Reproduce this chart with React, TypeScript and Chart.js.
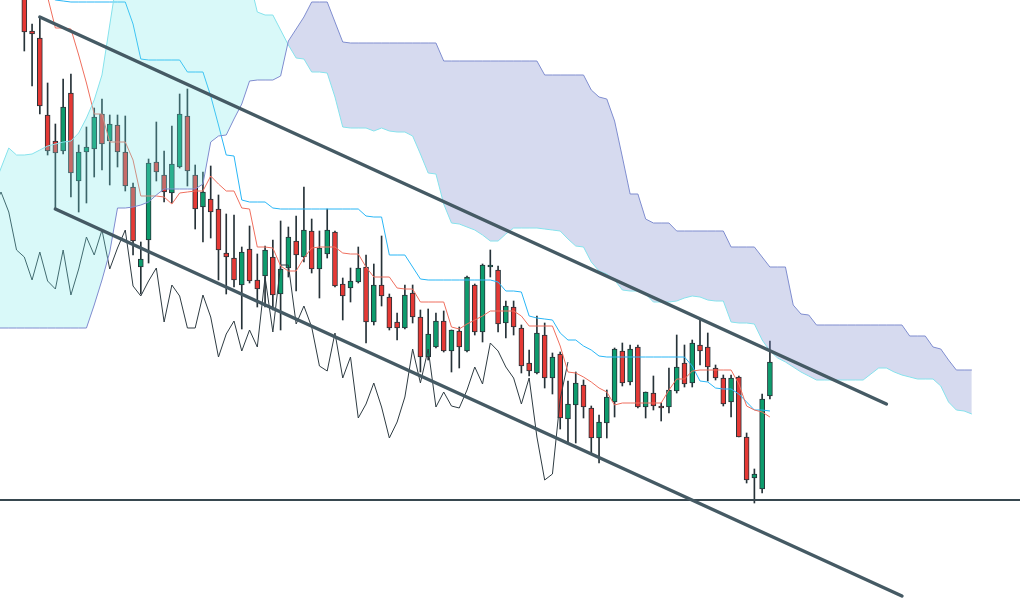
import React, { useEffect, useRef } from "react";
import { Chart, registerables } from "chart.js";

Chart.register(...registerables);

// ---- price data (candles indexed 0..96) ----
const opens = [
  200.8, 196.9, 196.2, 188.5, 185.9, 184.9, 190.7, 181.9, 184.8, 185.1,
  188.6, 185.9, 187.5, 184.8, 181.3, 173.3, 176.0, 183.8, 182.5, 180.7,
  183.3, 188.4, 182.5, 179.3, 180.1, 179.1, 174.7, 174.2, 171.5, 175.1,
  172.0, 172.4, 174.3, 170.6, 173.2, 175.9, 174.3, 176.9, 173.1, 174.6,
  176.8, 171.6, 171.2, 171.8, 173.3, 167.8, 171.5, 170.3, 167.8, 167.2,
  170.7, 168.3, 164.3, 165.3, 167.9, 164.9, 166.9, 164.9, 171.5, 166.8,
  173.3, 173.0, 167.7, 169.3, 167.2, 163.7, 162.7, 166.5, 162.2, 164.6,
  158.1, 159.5, 161.5, 159.2, 156.2, 157.7, 159.8, 164.9, 161.8, 165.3,
  159.3, 160.7, 159.4, 159.3, 160.9, 163.7, 161.7, 165.5, 165.3, 163.2,
  162.2, 159.8, 162.3, 156.3, 152.2, 151.1, 160.4,
];
const highs = [
  201.5, 197.6, 198.3, 191.7, 187.6, 192.1, 192.6, 185.5, 187.3, 189.2,
  190.1, 188.5, 188.5, 188.4, 181.7, 175.8, 184.1, 187.8, 184.9, 187.4,
  190.6, 191.1, 183.5, 182.8, 183.4, 180.5, 178.6, 178.5, 175.3, 177.4,
  174.6, 175.4, 176.0, 177.9, 177.3, 178.4, 181.3, 178.1, 176.9, 179.1,
  176.9, 172.2, 173.2, 175.3, 174.5, 173.6, 176.4, 170.6, 168.7, 171.5,
  171.5, 169.0, 169.1, 168.7, 168.9, 167.0, 167.3, 172.4, 171.6, 173.6,
  175.0, 173.4, 169.9, 169.9, 167.5, 165.0, 168.4, 167.7, 164.7, 164.8,
  161.9, 162.8, 162.0, 159.4, 158.5, 161.0, 165.2, 165.7, 165.5, 165.5,
  160.8, 162.4, 159.7, 163.2, 166.5, 165.5, 166.0, 168.0, 166.7, 163.5,
  162.5, 162.5, 162.4, 156.7, 153.1, 160.6, 165.9,
];
const lows = [
  194.9, 191.4, 188.6, 184.5, 179.1, 184.6, 180.3, 178.8, 179.7, 182.3,
  183.0, 181.5, 183.3, 180.9, 174.5, 170.6, 173.7, 181.9, 179.8, 179.7,
  183.2, 181.4, 177.1, 175.8, 176.2, 172.0, 170.6, 171.3, 167.1, 171.7,
  169.3, 169.3, 169.0, 167.0, 172.3, 170.9, 173.8, 172.7, 170.2, 174.2,
  171.3, 168.0, 169.8, 171.7, 165.7, 167.5, 169.4, 167.0, 166.0, 167.1,
  167.7, 162.8, 164.0, 165.2, 164.8, 162.8, 163.2, 164.8, 166.5, 165.8,
  172.3, 166.8, 166.2, 166.5, 162.7, 162.4, 162.6, 161.2, 160.6, 157.1,
  155.7, 155.7, 158.2, 154.7, 153.7, 156.2, 158.3, 161.4, 161.5, 159.2,
  158.2, 159.0, 157.9, 158.7, 160.7, 161.3, 161.3, 163.5, 161.9, 162.0,
  159.4, 158.3, 156.3, 151.7, 149.7, 150.7, 160.1,
];
const closes = [
  196.8, 196.6, 189.4, 184.9, 184.7, 189.3, 182.7, 184.8, 185.3, 188.3,
  185.6, 187.6, 184.8, 181.4, 175.9, 174.1, 183.7, 182.8, 180.8, 183.6,
  188.6, 182.9, 179.1, 180.8, 178.8, 175.0, 174.3, 172.0, 174.8, 171.9,
  171.1, 175.0, 170.5, 173.1, 176.3, 174.5, 177.0, 173.1, 175.2, 177.0,
  171.4, 170.4, 171.9, 173.2, 167.8, 171.5, 170.4, 167.2, 167.2, 170.5,
  168.3, 164.3, 166.6, 167.9, 164.9, 167.0, 165.3, 172.3, 166.8, 173.5,
  173.5, 167.6, 169.4, 167.3, 163.4, 162.9, 166.7, 162.2, 164.3, 158.2,
  159.6, 161.7, 159.3, 156.2, 157.8, 160.3, 165.1, 161.7, 165.1, 159.3,
  160.8, 159.4, 159.2, 161.0, 163.3, 161.6, 165.7, 164.9, 163.3, 162.2,
  159.6, 162.2, 156.3, 152.0, 152.6, 160.1, 163.8,
];

// ---- Ichimoku lines ----
const tenkan = [
  210.0, 207.0, 203.5, 200.3, 197.2, 197.2, 197.1, 194.5, 191.7, 188.6,
  188.6, 185.8, 185.8, 185.8, 184.0, 180.4, 180.4, 180.4, 180.3, 179.6,
  180.7, 180.8, 180.9, 180.9, 182.4, 181.6, 180.9, 180.9, 179.2, 179.1,
  175.3, 175.3, 175.2, 173.4, 172.9, 172.9, 174.2, 175.2, 175.3, 175.3,
  175.3, 174.7, 174.6, 174.6, 173.3, 172.3, 172.3, 172.3, 171.2, 171.1,
  171.1, 169.8, 169.8, 169.8, 169.8, 167.3, 167.1, 167.6, 168.0, 168.4,
  168.9, 168.9, 168.9, 168.9, 168.4, 167.4, 167.4, 167.4, 167.4, 165.4,
  162.8, 162.7, 162.3, 161.8, 161.2, 160.8, 159.5, 159.7, 159.7, 159.7,
  159.7, 159.7, 159.7, 161.0, 162.1, 162.1, 162.9, 163.0, 163.0, 163.0,
  163.0, 163.0, 161.6, 159.4, 159.0, 158.8, 158.3,
];
const kijun = [
  203.0, 202.5, 202.0, 200.4, 200.0, 199.9, 199.8, 199.8, 199.8, 199.8,
  199.8, 199.8, 199.8, 199.8, 197.6, 194.1, 194.0, 194.0, 194.0, 194.0,
  194.0, 192.8, 192.8, 192.8, 190.4, 187.5, 184.5, 184.4, 180.0, 179.8,
  179.8, 179.8, 179.2, 179.1, 179.1, 179.1, 179.1, 179.1, 179.1, 179.1,
  179.1, 179.1, 179.1, 179.1, 178.4, 178.3, 178.3, 174.5, 174.5, 174.5,
  173.3, 172.1, 172.0, 172.0, 172.0, 172.0, 172.0, 172.0, 172.0, 172.0,
  172.0, 171.8, 170.9, 170.9, 170.8, 168.4, 168.2, 168.1, 168.0, 166.7,
  166.0, 166.0, 165.4, 165.0, 164.4, 164.3, 164.3, 164.3, 164.3, 164.3,
  164.3, 164.3, 164.3, 164.3, 164.3, 164.3, 163.4, 161.9, 161.8, 161.2,
  161.1, 161.1, 160.6, 159.8, 159.0, 159.0, 158.9,
];

// cloud spans (already displaced 26 bars ahead), first value at index -4
const CLOUD_START = -4;
const senkouA = [
  181.2, 183.2, 185.2, 184.5,
  184.5, 184.6, 185.0, 185.4, 185.6, 185.8, 185.9, 186.7, 188.2, 190.0,
  192.5, 197.5, 202.5, 205.0, 205.0, 205.0, 205.0, 205.0, 205.0, 205.0,
  205.0, 205.0, 205.0, 205.0, 205.0, 205.0, 205.0, 205.0, 205.0, 202.0,
  198.8, 198.5, 198.5, 197.0, 195.5, 194.2, 194.1, 192.8, 192.8, 192.7,
  190.3, 187.3, 187.2, 187.2, 187.2, 186.9, 187.2, 186.9, 186.8, 186.8,
  186.4, 184.6, 182.7, 182.6, 179.6, 177.7, 177.6, 177.3, 177.0, 176.5,
  175.9, 175.9, 176.6, 177.2, 177.2, 177.2, 177.2, 177.1, 177.0, 176.9,
  176.1, 175.4, 175.3, 173.8, 172.9, 172.6, 172.0, 171.0, 170.9, 170.9,
  170.6, 169.8, 169.8, 169.8, 169.9, 170.2, 170.4, 170.3, 170.0, 169.9,
  169.9, 167.8, 167.7, 167.7, 167.6, 166.0, 164.9, 164.2, 163.8, 163.3,
  162.8, 162.4, 162.0, 162.0, 162.0, 162.0, 162.0, 162.0, 162.0, 162.6,
  163.2, 163.2, 162.8, 162.5, 162.3, 162.1, 162.1, 162.1, 161.4, 159.8,
  159.0, 158.9, 158.6,
];
const senkouB = [
  167.2, 167.2, 167.2, 167.2,
  167.2, 167.2, 167.2, 167.2, 167.2, 167.2, 167.2, 167.2, 167.2, 169.5,
  172.0, 174.8, 179.2, 179.2, 179.3, 179.5, 179.8, 180.5, 181.1, 181.1,
  181.1, 181.1, 181.1, 181.6, 185.8, 186.4, 186.5, 188.1, 189.6, 191.9,
  192.0, 192.0, 192.0, 192.4, 195.9, 197.1, 198.3, 199.8, 199.8, 199.8,
  197.8, 195.8, 195.7, 195.7, 195.7, 195.7, 195.7, 195.7, 195.7, 195.7,
  195.7, 195.7, 195.7, 195.7, 193.9, 193.9, 193.9, 193.9, 193.9, 193.9,
  193.9, 193.9, 193.9, 193.9, 193.9, 193.9, 193.9, 192.5, 192.5, 192.5,
  192.5, 192.5, 192.5, 191.0, 190.3, 190.1, 187.9, 184.3, 180.6, 180.6,
  178.1, 177.7, 177.7, 177.7, 176.9, 176.9, 176.9, 176.9, 176.9, 176.9,
  176.9, 175.3, 175.3, 175.3, 175.3, 174.3, 173.3, 173.3, 173.3, 169.5,
  168.6, 168.5, 167.5, 167.5, 167.5, 167.5, 167.5, 167.5, 167.5, 167.5,
  167.5, 167.5, 167.5, 167.5, 166.4, 166.4, 166.4, 165.3, 165.1, 164.0,
  163.0, 163.0, 163.0,
];
const LAG = 26;

// ---- drawn channel & level ----
const upperTrendX = [2, 111];
const upperTrendY = [198.3, 159.6];
const lowerTrendX = [4, 113];
const lowerTrendY = [179.1, 140.4];
const supportLevel = 150.0;

const X_MIN = -3.13;
const X_MAX = 128.2;
const Y_MIN = 139.2;
const Y_MAX = 200;

const GREEN = "#0d9c6d";
const RED = "#e53935";
const EDGE = "#263238";

export default function App() {
  const ref = useRef<HTMLCanvasElement>(null);

  useEffect(() => {
    const canvas = ref.current;
    if (!canvas) return;

    const bodies = opens.map((o, i) => ({ x: i, y: [o, closes[i]] }));
    const wicks = lows.map((l, i) => ({ x: i, y: [l, highs[i]] }));
    const bodyColors = opens.map((o, i) => (closes[i] >= o ? GREEN : RED));
    const tenkanPts = tenkan.map((v, i) => ({ x: i, y: v }));
    const kijunPts = kijun.map((v, i) => ({ x: i, y: v }));
    const lagPts = closes.map((c, i) => ({ x: i - LAG, y: c }));
    const aPts = senkouA.map((v, k) => ({ x: k + CLOUD_START, y: v }));
    const bPts = senkouB.map((v, k) => ({ x: k + CLOUD_START, y: v }));
    const upPts = upperTrendX.map((x, k) => ({ x, y: upperTrendY[k] }));
    const loPts = lowerTrendX.map((x, k) => ({ x, y: lowerTrendY[k] }));
    const levelPts = [
      { x: X_MIN - 1, y: supportLevel },
      { x: X_MAX + 1, y: supportLevel },
    ];

    const lineBase = {
      type: "line" as const,
      pointRadius: 0,
      tension: 0,
      fill: false,
    };

    const chart = new Chart(canvas, {
      type: "bar",
      data: {
        datasets: [
          { ...lineBase, data: upPts, borderColor: "#455a64", borderWidth: 3.5, borderCapStyle: "round", order: 0 },
          { ...lineBase, data: loPts, borderColor: "#455a64", borderWidth: 3.5, borderCapStyle: "round", order: 0 },
          { ...lineBase, data: levelPts, borderColor: "#37474f", borderWidth: 2, order: 0 },
          {
            ...lineBase,
            data: aPts,
            borderColor: "#86e2ec",
            borderWidth: 1,
            fill: { target: "+1", above: "rgba(120,235,235,0.28)", below: "rgba(120,134,203,0.3)" },
            order: 1.5,
          },
          { ...lineBase, data: bPts, borderColor: "#7f8ccf", borderWidth: 1, order: 1 },
          { ...lineBase, data: tenkanPts, borderColor: "#ef6f5e", borderWidth: 1, order: 2 },
          { ...lineBase, data: kijunPts, borderColor: "#29b6f6", borderWidth: 1, order: 2 },
          { ...lineBase, data: lagPts, borderColor: "#2e3b42", borderWidth: 1, order: 2 },
          {
            type: "bar",
            data: bodies,
            backgroundColor: bodyColors,
            borderColor: EDGE,
            borderWidth: 1,
            borderSkipped: false,
            barThickness: 5,
            minBarLength: 1,
            grouped: false,
            order: 3,
          },
          {
            type: "bar",
            data: wicks,
            backgroundColor: EDGE,
            borderWidth: 0,
            barThickness: 1,
            grouped: false,
            order: 4,
          },
        ] as any,
      },
      options: {
        animation: false,
        responsive: false,
        devicePixelRatio: 1,
        events: [],
        layout: { padding: 0 },
        plugins: {
          legend: { display: false },
          tooltip: { enabled: false },
        },
        scales: {
          x: { type: "linear", display: false, min: X_MIN, max: X_MAX, offset: false },
          y: { type: "linear", display: false, min: Y_MIN, max: Y_MAX },
        },
      } as any,
    });

    return () => chart.destroy();
  }, []);

  return (
    <div style={{ position: "absolute", left: 0, top: 0, width: 1020, height: 608, background: "#ffffff" }}>
      <canvas ref={ref} width={1020} height={608} style={{ display: "block" }} />
    </div>
  );
}
